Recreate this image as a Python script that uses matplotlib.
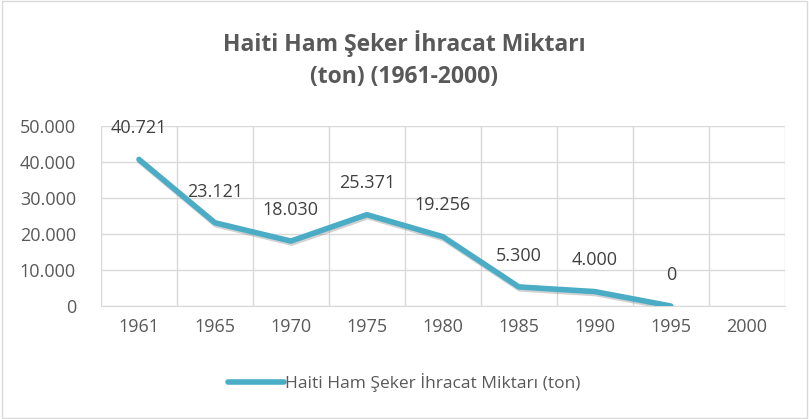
import matplotlib.pyplot as plt
from matplotlib.ticker import FuncFormatter

years = ["1961", "1965", "1970", "1975", "1980", "1985", "1990", "1995", "2000"]
values = [40721, 23121, 18030, 25371, 19256, 5300, 4000, 0]
labels = ["40.721", "23.121", "18.030", "25.371", "19.256", "5.300", "4.000", "0"]

plt.rcParams["font.family"] = ["Open Sans", "DejaVu Sans"]
text_col = "#595959"
label_col = "#404040"
line_col = "#4BACC6"

fig = plt.figure(figsize=(8.09, 4.19), dpi=100)
ax = fig.add_axes([0.1248, 0.2697, 0.8452, 0.4296])

x = list(range(len(values)))
shadow = ax.transData + plt.matplotlib.transforms.ScaledTranslation(1/100, -2/100, fig.dpi_scale_trans)
ax.plot(x, values, color="#7f7f7f", lw=4, alpha=0.35, solid_capstyle="round",
        solid_joinstyle="round", transform=shadow, zorder=2)
ax.plot(x, values, color=line_col, lw=4, solid_capstyle="round",
        solid_joinstyle="round", label="Haiti Ham Şeker İhracat Miktarı (ton)", zorder=3)

for xi, v, lab in zip(x, values, labels):
    ax.annotate(lab, (xi, v), xytext=(0, 16), textcoords="offset points",
                ha="center", va="bottom", fontsize=13, color=label_col)

ax.set_xlim(-0.5, len(years) - 0.5)
ax.set_ylim(0, 50000)
ax.set_xticks(range(len(years)))
ax.set_xticklabels(years)
ax.set_yticks(range(0, 50001, 10000))
ax.yaxis.set_major_formatter(FuncFormatter(lambda v, p: f"{int(v):,}".replace(",", ".")))
ax.set_xticks([i + 0.5 for i in range(-1, len(years))], minor=True)

ax.grid(True, axis="y", which="major", color="#d9d9d9", lw=1)
ax.grid(True, axis="x", which="minor", color="#d9d9d9", lw=1)
ax.set_axisbelow(True)
for s in ["top", "right", "left"]:
    ax.spines[s].set_visible(False)
ax.spines["bottom"].set_color("#d9d9d9")
ax.tick_params(axis="both", which="both", length=0, labelsize=13, labelcolor=text_col)
ax.tick_params(axis="y", pad=18)
ax.tick_params(axis="x", pad=9)

fig.text(0.5, 0.857, "Haiti Ham Şeker İhracat Miktarı\n(ton) (1961-2000)", ha="center", va="center",
         fontsize=16.5, fontweight="bold", color=text_col, linespacing=1.45)

leg = fig.legend(loc="center", bbox_to_anchor=(0.5, 0.087), frameon=False, fontsize=12.5,
                 handlelength=3.2, handletextpad=0.1)
for t in leg.get_texts():
    t.set_color(text_col)

fig.patches.append(plt.Rectangle((0.002, 0.002), 0.996, 0.996, transform=fig.transFigure,
                                 fill=False, edgecolor="#d9d9d9", lw=1))

fig.savefig("out.png", dpi=100)
